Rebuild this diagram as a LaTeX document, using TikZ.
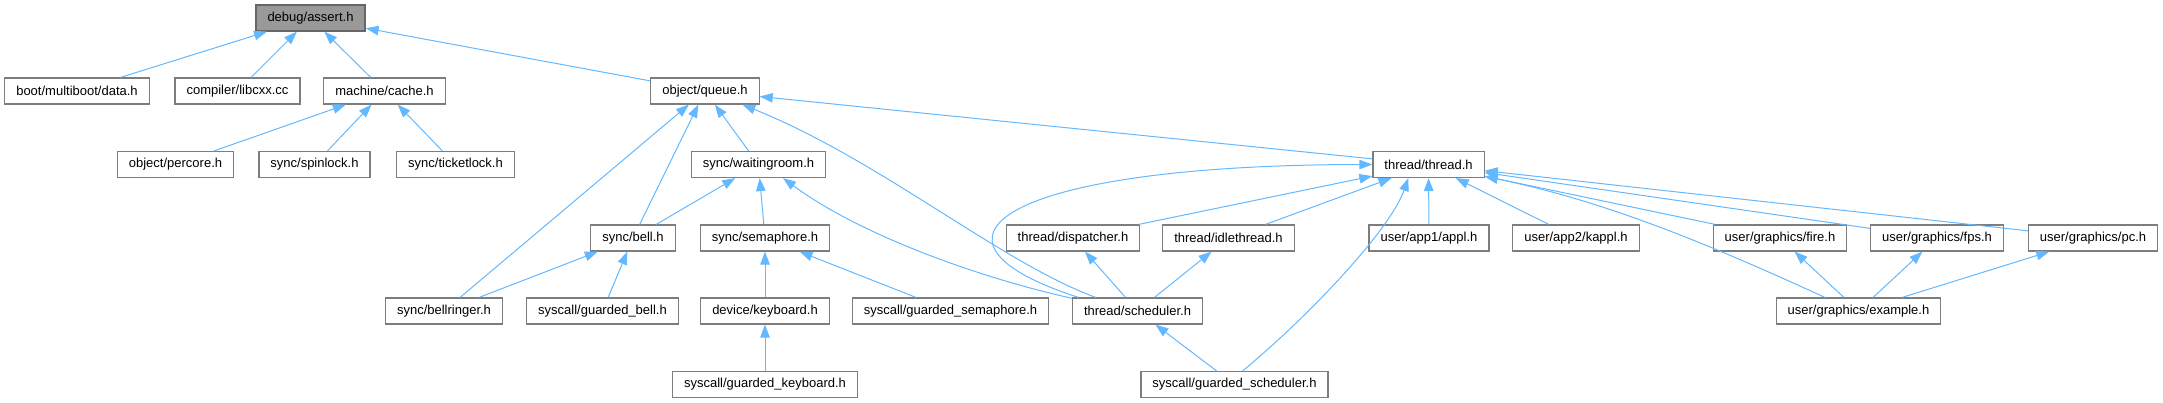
\documentclass[tikz,border=0pt]{standalone}
\usepackage{fontspec}
\setmainfont{Liberation Sans}
\usetikzlibrary{arrows.meta}
\definecolor{edgeblue}{RGB}{99,184,255}
\definecolor{boxgray}{RGB}{125,125,125}
\definecolor{rootline}{RGB}{102,102,102}
\definecolor{rootfill}{RGB}{153,153,153}
\tikzset{
  box/.style={draw=boxgray,line width=1.2pt,fill=white,minimum height=26pt,inner xsep=11.5pt,inner ysep=0pt,font=\fontsize{13}{15}\selectfont},
  edge/.style={draw=edgeblue,line width=1pt,-{Triangle[length=13pt,width=9.5pt]}}
}
\begin{document}
\begin{tikzpicture}[x=1pt,y=-1pt]%include graph
		\useasboundingbox (0,0) rectangle (2163,403);
		\node[box,draw=rootline,fill=rootfill] (assert) at (310.5,18) {debug/assert.h};
		\node[box] (data) at (77,91) {boot/multiboot/data.h};
		\node[box] (libcxx) at (237.5,91) {compiler/libcxx.cc};
		\node[box] (cache) at (384.5,91) {machine/cache.h};
		\node[box] (queue) at (705,91) {object/queue.h};
		\node[box] (percore) at (175.5,164.5) {object/percore.h};
		\node[box] (spinlock) at (314.5,164.5) {sync/spinlock.h};
		\node[box] (ticketlock) at (455.5,164.5) {sync/ticketlock.h};
		\node[box] (wroom) at (758.5,164.5) {sync/waitingroom.h};
		\node[box] (thread) at (1428.5,164.5) {thread/thread.h};
		\node[box] (bell) at (633,238) {sync/bell.h};
		\node[box] (sema) at (765,238) {sync/semaphore.h};
		\node[box] (disp) at (1073,238) {thread/dispatcher.h};
		\node[box] (idle) at (1228.5,238) {thread/idlethread.h};
		\node[box] (appl) at (1429,238) {user/app1/appl.h};
		\node[box] (kappl) at (1576,238) {user/app2/kappl.h};
		\node[box] (fire) at (1780,238) {user/graphics/fire.h};
		\node[box] (fps) at (1937,238) {user/graphics/fps.h};
		\node[box] (pc) at (2093,238) {user/graphics/pc.h};
		\node[box] (bellringer) at (444,311) {sync/bellringer.h};
		\node[box] (gbell) at (602.5,311) {syscall/guarded\_bell.h};
		\node[box] (keyb) at (765,311) {device/keyboard.h};
		\node[box] (gsema) at (950.5,311) {syscall/guarded\_semaphore.h};
		\node[box] (sched) at (1137.5,311) {thread/scheduler.h};
		\node[box] (example) at (1858.5,311) {user/graphics/example.h};
		\node[box] (gkeyb) at (765,384.5) {syscall/guarded\_keyboard.h};
		\node[box] (gsched) at (1234.5,384.5) {syscall/guarded\_scheduler.h};
		\foreach \a/\b in {data/assert,libcxx/assert,cache/assert,queue/assert,
			percore/cache,spinlock/cache,ticketlock/cache,
			bellringer/queue,bell/queue,wroom/queue,thread/queue,
			bell/wroom,sema/wroom,bellringer/bell,gbell/bell,
			keyb/sema,gsema/sema,gkeyb/keyb,
			disp/thread,idle/thread,appl/thread,kappl/thread,fire/thread,fps/thread,pc/thread,
			sched/disp,sched/idle,gsched/sched,example/fire,example/fps,example/pc}
		\draw[edge] (\a) -- (\b);
		\draw[edge] (sched.162) .. controls (1000,262) and (880,160) .. (queue.-20);
		\draw[edge] (sched.169) .. controls (980,278) and (860,235) .. (wroom.-29);
		\draw[edge] (sched.167) .. controls (900,240) and (1000,165) .. (thread.west);
		\draw[edge] (gsched.59) .. controls (1310,315) and (1390,230) .. (thread.-146);
		\draw[edge] (example.158) .. controls (1700,240) and (1600,200) .. (thread.-12);
\end{tikzpicture}
\end{document}
